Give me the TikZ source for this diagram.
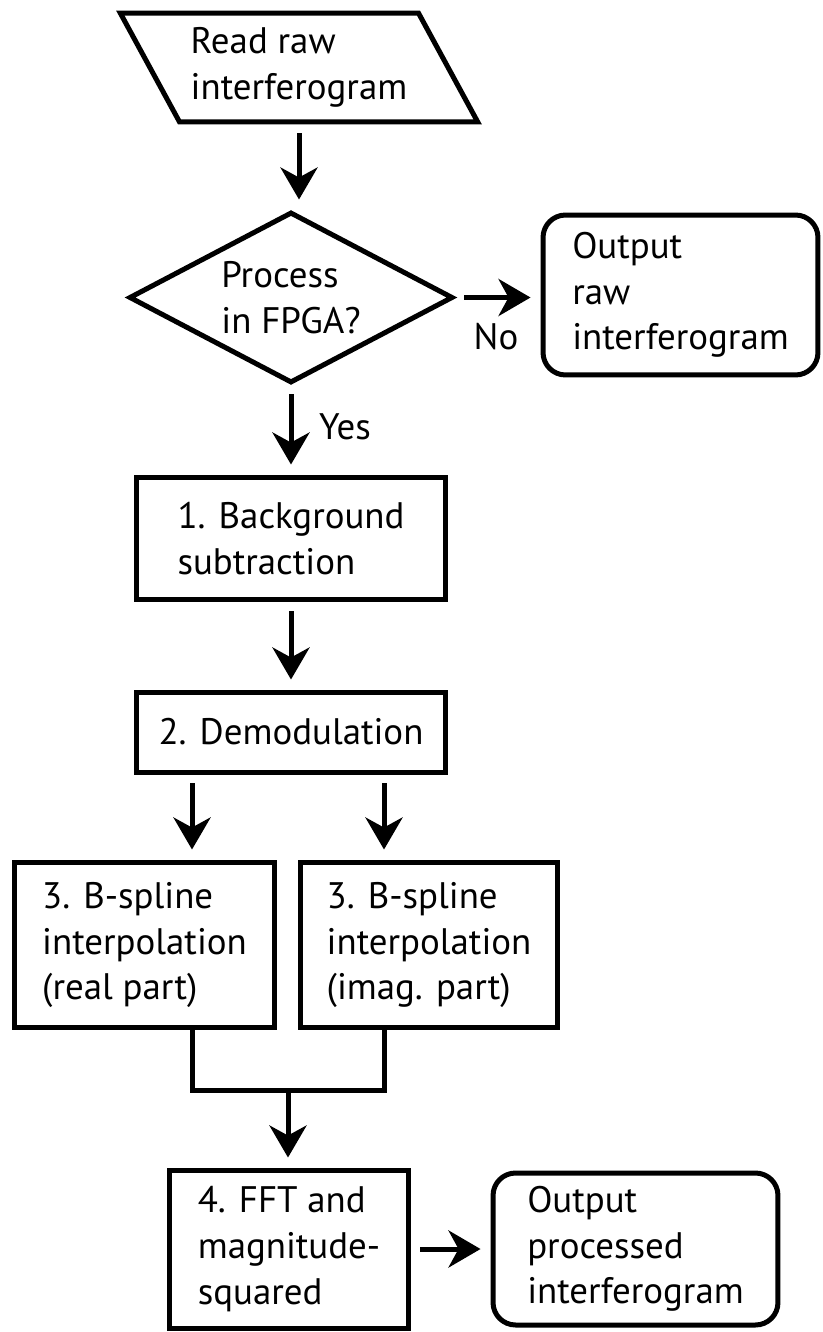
\documentclass[tikz,border=0pt]{standalone}
\usepackage{fontspec}
\setmainfont{PT Sans}
\usetikzlibrary{shapes.geometric,arrows.meta}

\begin{document}
\begin{tikzpicture}[x=0.02cm,y=-0.02cm, line width=0.1cm,
  txt/.style={font=\fontsize{21}{26}\selectfont, align=left, inner sep=0pt},
  box/.style={txt, draw, rectangle},
  term/.style={box, rounded corners=0.45cm},
  arr/.style={-{Stealth[length=0.64cm,width=0.74cm,inset=0.2cm]}, shorten <=0.18cm, shorten >=0.2cm}]
\useasboundingbox (0,0) rectangle (822,1332);
\node[txt, draw, trapezium, trapezium left angle=124, trapezium right angle=56, trapezium stretches=true, minimum width=7.16cm, minimum height=2.18cm] (read) at (299,67.5) {Read raw\\interferogram};
\node[txt, draw, diamond, aspect=1.9, minimum width=6.48cm, minimum height=3.42cm] (fpga) at (291,297.5) {Process\\in FPGA?};
\node[term, minimum width=5.5cm, minimum height=3.2cm] (rawout) at (680.5,295) {Output\\raw\\interferogram};
\node[box, minimum width=6.2cm, minimum height=2.46cm] (bg) at (291,538.5) {1. Background\\subtraction};
\node[box, minimum width=6.2cm, minimum height=1.6cm] (demod) at (291,732) {2. Demodulation};
\node[box, minimum width=5.22cm, minimum height=3.32cm] (re) at (144.5,945) {3. B-spline\\interpolation\\(real part)};
\node[box, minimum width=5.16cm, minimum height=3.32cm] (im) at (429,945) {3. B-spline\\interpolation\\(imag. part)};
\node[box, minimum width=4.8cm, minimum height=3.16cm] (fft) at (289,1249) {4. FFT and\\magnitude-\\squared};
\node[term, minimum width=5.7cm, minimum height=3.04cm] (procout) at (635.5,1249) {Output\\processed\\interferogram};
\node[txt] (no) at (496,337) {No};
\node[txt] (yes) at (345,427) {Yes};
\coordinate (sl) at (192,0);
\coordinate (sr) at (384,0);
\coordinate (join) at (288,1090);
\draw[arr] (read.south) -- (read.south |- fpga.north);
\draw[arr] (fpga.east) -- (fpga.east -| rawout.west);
\draw[arr] (fpga.south) -- (bg.north);
\draw[arr] (bg.south) -- (demod.north);
\draw[arr] (sl |- demod.south) -- (sl |- re.north);
\draw[arr] (sr |- demod.south) -- (sr |- im.north);
\draw (sl |- re.south) -- (sl |- join) -- (sr |- join) -- (sr |- im.south);
\draw[arr, shorten <=0pt] (join) -- (join |- fft.north);
\draw[arr] (fft.east) -- (procout.west);
\end{tikzpicture}
\end{document}
